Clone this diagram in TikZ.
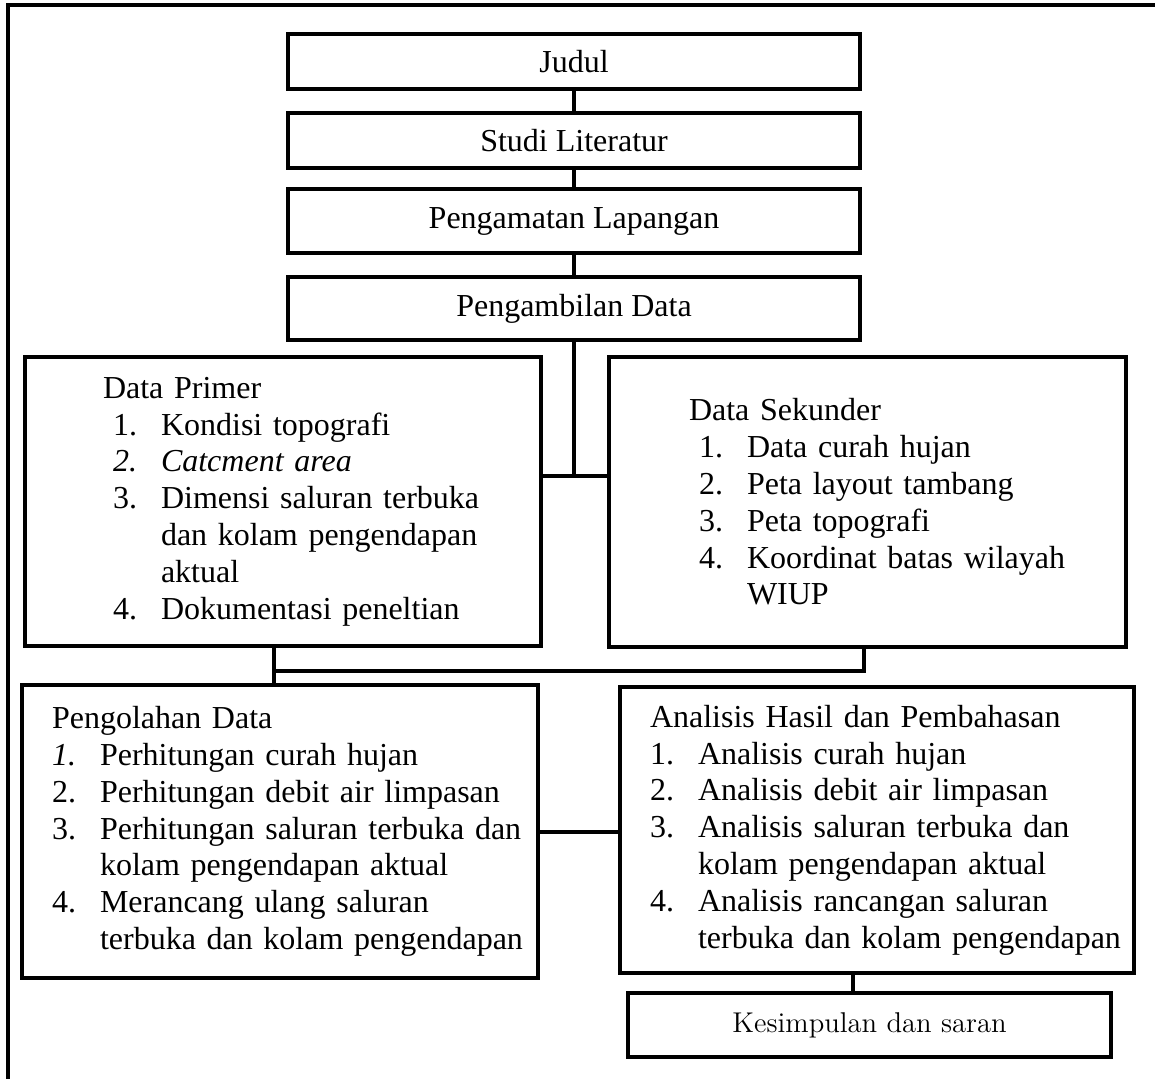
\documentclass[tikz,border=0pt]{standalone}
\usepackage{fontspec}
\setmainfont{Liberation Serif}
\usetikzlibrary{positioning}

\newcommand{\itm}[2]{\makebox[24pt][l]{#1}\mbox{#2}}
\newcommand{\ind}{\hspace*{5pt}}

\begin{document}
\begin{tikzpicture}[x=0.5pt, y=-0.5pt, line width=2pt,
    flowbox/.style={rectangle, draw, minimum width=286pt, minimum height=27.5pt,
                    inner sep=0pt, outer sep=0pt, font=\fontsize{16}{18.4}\selectfont},
    listbox/.style={rectangle, draw, inner ysep=0pt, outer sep=0pt, align=left,
                    font=\fontsize{16}{18.4}\selectfont}]
\useasboundingbox (0,0) rectangle (1155,1079);

% bingkai
\draw (8,1090) -- (8,5) -- (1165,5);

\node[flowbox] (judul) at (574,61.5) {Judul};
\node[flowbox, below=12pt of judul] (studi) {Studi Literatur};
\node[flowbox, below=10.5pt of studi, minimum height=32pt] (amat) {Pengamatan Lapangan};
\node[flowbox, below=12pt of amat, minimum height=31.5pt] (ambil) {Pengambilan Data};

\node[listbox, inner xsep=39pt, text width=180pt, minimum width=258pt,
      minimum height=144.5pt] (primer) at (283,501.5) {Data Primer\\
  \ind\itm{1.}{Kondisi topografi}\\
  \ind\itm{\textit{2.}}{\textit{Catcment area}}\\
  \ind\itm{3.}{Dimensi saluran terbuka}\\
  \ind\itm{}{dan kolam pengendapan}\\
  \ind\itm{}{aktual}\\
  \ind\itm{4.}{Dokumentasi peneltian}};
\node[listbox, inner xsep=40pt, text width=178.5pt, minimum width=258.5pt,
      minimum height=145pt] (sekunder) at (867.5,502) {Data Sekunder\\
  \ind\itm{1.}{Data curah hujan}\\
  \ind\itm{2.}{Peta layout tambang}\\
  \ind\itm{3.}{Peta topografi}\\
  \ind\itm{4.}{Koordinat batas wilayah}\\
  \ind\itm{}{WIUP}};

\node[listbox, inner xsep=15pt, text width=228pt, minimum width=258pt,
      minimum height=146.5pt] (olah) at (280,831.5) {Pengolahan Data\\
  \itm{\textit{1.}}{Perhitungan curah hujan}\\
  \itm{2.}{Perhitungan debit air limpasan}\\
  \itm{3.}{Perhitungan saluran terbuka dan}\\
  \itm{}{kolam pengendapan aktual}\\
  \itm{4.}{Merancang ulang saluran}\\
  \itm{}{terbuka dan kolam pengendapan}};
\node[listbox, inner xsep=15pt, text width=227pt, minimum width=257pt,
      minimum height=143pt] (analisis) at (877,830) {Analisis Hasil dan Pembahasan\\
  \itm{1.}{Analisis curah hujan}\\
  \itm{2.}{Analisis debit air limpasan}\\
  \itm{3.}{Analisis saluran terbuka dan}\\
  \itm{}{kolam pengendapan aktual}\\
  \itm{4.}{Analisis rancangan saluran}\\
  \itm{}{terbuka dan kolam pengendapan}};

\node[flowbox, minimum width=241.5pt, minimum height=32pt,
      font=\fontfamily{lmr}\fontsize{14.3}{17}\selectfont] (kesimpulan)
      at (869.5,1025) {Kesimpulan dan saran};

\coordinate (j1) at (574,476);
\coordinate (j2) at (274,671);
\coordinate (j3) at (864,671);

\draw (judul) -- (studi);
\draw (studi) -- (amat);
\draw (amat) -- (ambil);
\draw (ambil.south) -- (j1);
\draw (primer.east |- j1) -- (sekunder.west |- j1);
\draw (primer.south -| j2) -- (olah.north -| j2);
\draw (j2) -- (j3) -- (sekunder.south -| j3);
\draw (olah.east) -- (olah.east -| analisis.west);
\draw ([xshift=-8.25pt]kesimpulan.north) -- ([xshift=-8.25pt]kesimpulan.north |- analisis.south);
\end{tikzpicture}
\end{document}
